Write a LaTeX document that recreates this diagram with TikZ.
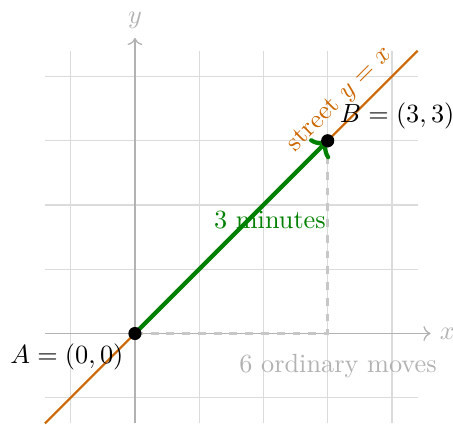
\documentclass[tikz,border=0pt]{standalone}
\usepackage{amsmath,amssymb}
\usepackage{xcolor}
\usepackage{tikz}
\usetikzlibrary{arrows.meta,positioning}

\begin{document}
\begin{tikzpicture}[
      scale=0.86,
      gridline/.style={black!14, line width=0.5pt},
      axis/.style={black!30, line width=0.5pt, ->},
      street/.style={draw=orange!80!black, thick},
      walk/.style={draw=green!50!black, ultra thick, ->},
      moves/.style={draw=black!22, very thick, dashed},
      dot/.style={circle, fill=black, inner sep=0pt, minimum size=5pt}]
    \useasboundingbox (-2.10,-1.42) rectangle (4.95,5.19);
    \draw[gridline] (-1.4,-1.4) grid (4.4,4.4);
    \coordinate (xs) at (-1.4,0); \coordinate (xe) at (4.6,0);
    \coordinate (ys) at (0,-1.4); \coordinate (ye) at (0,4.6);
    \draw[axis] (xs) -- (xe) node[right, black!30] {$x$};
    \draw[axis] (ys) -- (ye) node[above, black!30] {$y$};
    \coordinate (A) at (0,0);
    \coordinate (B) at (3,3);
    \coordinate (s0) at (-1.4,-1.4);
    \coordinate (s1) at (4.4,4.4);
    \draw[moves] (A) -| (B);
    \node[black!30] (movelbl) at (3.16,-0.5) {6 ordinary moves};
    \draw[street] (s0) -- (s1) node[pos=0.83, above, sloped, text=orange!80!black] {street $y=x$};
    \draw[walk] (A) -- (B);
    \node[text=green!50!black] (walklbl) at (2.1,1.76) {3 minutes};
    \node[dot] (dA) at (A) {};
    \node[dot] (dB) at (B) {};
    \node (lblA) at (-1.06,-0.37) {$A=(0,0)$};
    \node (lblB) at (4.08,3.38) {$B=(3,3)$};
  \end{tikzpicture}
\end{document}
